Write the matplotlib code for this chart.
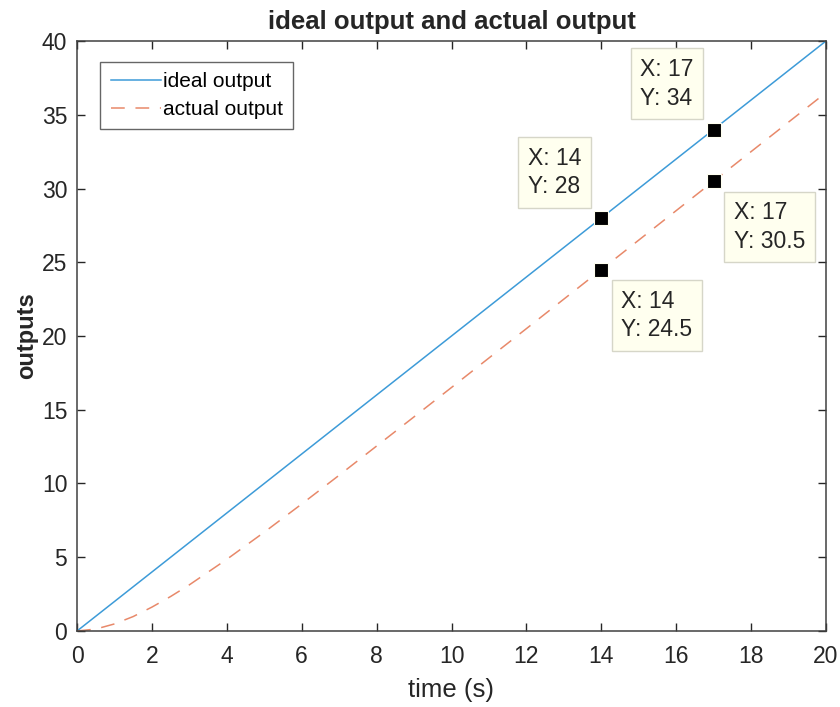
import numpy as np
import matplotlib
matplotlib.use("Agg")
import matplotlib.pyplot as plt

# values
t_ideal = [0, 2, 4, 6, 8, 10, 12, 14, 16, 18, 20]
ideal = [0, 4, 8, 12, 16, 20, 24, 28, 32, 36, 40]

t_actual = [0, 0.5, 1, 1.5, 2, 2.5, 3, 4, 5, 6, 7, 8, 9, 10,
            11, 12, 13, 14, 15, 16, 17, 18, 19, 20]
actual = [0, 0.13, 0.48, 0.98, 1.62, 2.34, 3.13, 4.86, 6.70, 8.61, 10.56, 12.54,
          14.52, 16.51, 18.51, 20.50, 22.50, 24.50, 26.50, 28.50, 30.50,
          32.50, 34.50, 36.50]

# data tips: (x, y, side)  side: 'ul' box up-left of point, 'lr' down-right
tips_x = [14, 14, 17, 17]
tips_y = [28, 24.5, 34, 30.5]
tips_side = ['ul', 'lr', 'ul', 'lr']

plt.rcParams['font.family'] = ['Liberation Sans', 'DejaVu Sans']
ink = '#262626'

fig = plt.figure(figsize=(8.4, 7.07), dpi=100)
ax = fig.add_axes([0.0917, 0.1075, 0.8916, 0.8345])

ax.plot(t_ideal, ideal, color='#3d9bd8', lw=1.1, label='ideal output')
ax.plot(t_actual, actual, color='#e8896a', lw=1.1, dashes=(9, 7),
        label='actual output')

ax.set_xlim(0, 20)
ax.set_ylim(0, 40)
ax.set_xticks(np.arange(0, 21, 2))
ax.set_yticks(np.arange(0, 41, 5))
ax.tick_params(direction='in', length=6, width=1, top=True, right=True,
               labelsize=16.5, colors=ink)
ax.tick_params(axis='x', pad=10)
ax.tick_params(axis='y', pad=7)
for s in ax.spines.values():
    s.set_color('#404040')
    s.set_linewidth(1.1)

ax.set_title('ideal output and actual output', fontsize=18.5, fontweight='bold',
             color=ink, pad=9)
ax.set_xlabel('time (s)', fontsize=18.5, color=ink, labelpad=7)
ax.set_ylabel('outputs', fontsize=17, fontweight='bold', color=ink, labelpad=3)

leg = ax.legend(loc='upper left', bbox_to_anchor=(0.031, 0.965), fontsize=15,
                frameon=True, fancybox=False, edgecolor='#404040',
                handlelength=2.4, handletextpad=0.1, borderpad=0.5,
                labelspacing=0.42, borderaxespad=0)
leg.get_frame().set_linewidth(1.0)

for x, y, side in zip(tips_x, tips_y, tips_side):
    ax.plot(x, y, 's', ms=10, mfc='black', mec='#fffff0', mew=0.8, zorder=5)
    if side == 'ul':
        off, ha, va = (-20, 20), 'right', 'bottom'
    else:
        off, ha, va = (20, -20), 'left', 'top'
    ax.annotate('X: %g\nY: %g' % (x, y), (x, y), xytext=off,
                textcoords='offset pixels', ha=ha, va=va, fontsize=16.5,
                multialignment='left',
                color=ink, linespacing=1.3, zorder=6,
                bbox=dict(boxstyle='square,pad=0.42', fc='#ffffef',
                          ec='#d6d6c8', lw=1.0))

fig.savefig('out.png', dpi=100)
